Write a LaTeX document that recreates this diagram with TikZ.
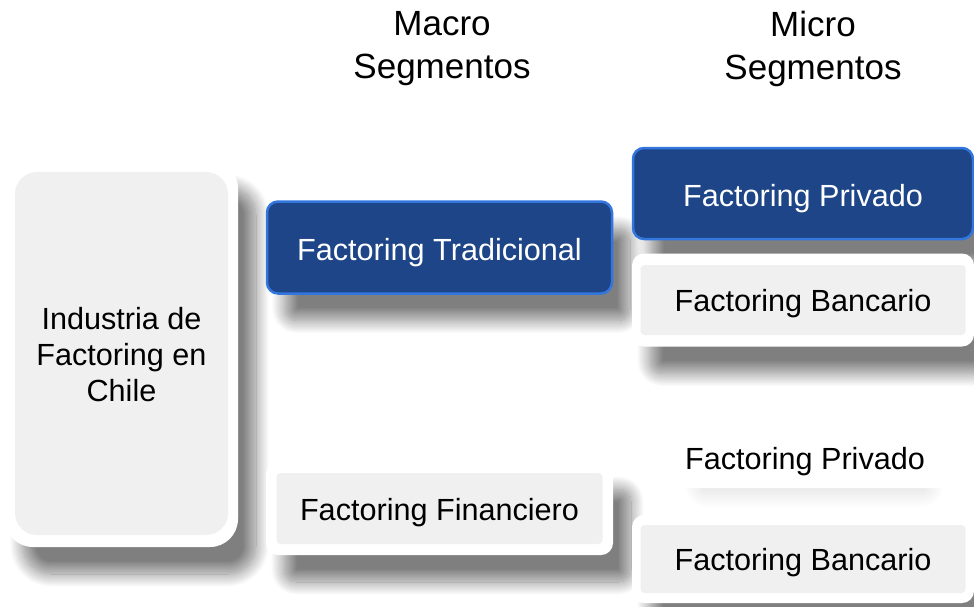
\documentclass[tikz,border=0pt]{standalone}
\usepackage{fontspec}
\setmainfont{Liberation Sans}
\usetikzlibrary{shadows.blur}
\definecolor{panelgray}{RGB}{240,240,240}
\definecolor{deepblue}{RGB}{30,69,135}
\definecolor{rimblue}{RGB}{50,118,222}
\begin{document}
\begin{tikzpicture}[x=1pt,y=-1pt,
  lbl/.style={font=\fontsize{30.6}{36}\selectfont,align=center,inner sep=0pt},
  head/.style={font=\fontsize{35}{43}\selectfont,align=center},
  softshadow/.style={blur shadow={shadow xshift=18pt,shadow yshift=-27pt,
      shadow blur radius=13pt,shadow blur steps=18,shadow opacity=50}},
  frame/.style={rectangle,rounded corners=12pt,fill=white,softshadow,
      inner sep=0pt},
  panel/.style={rectangle,rounded corners=4pt,fill=panelgray,inner sep=0pt},
  bluebox/.style={rectangle,rounded corners=11pt,fill=deepblue,draw=rimblue,
      line width=2.5pt,softshadow,inner sep=0pt}]
\useasboundingbox (0,0) rectangle (974,606);

% column headings
\node[head] (hmacro) at (442,49) {Macro\\Segmentos};
\node[head] (hmicro) at (813,49) {Micro\\Segmentos};

% industry panel
\node[frame,rounded corners=28pt,minimum width=233pt,minimum height=387pt] (ind) at (121.5,353.5) {};
\node[panel,rounded corners=22pt,minimum width=213pt,minimum height=363pt] (indin) at (ind) {};
\node[lbl] (indtxt) at ([yshift=-1pt]indin.center) {Industria de\\Factoring en\\Chile};

% macro segments
\node[bluebox,minimum width=345pt,minimum height=92pt] (trad) at (439.5,247.5) {};
\node[lbl,text=white] (tradtxt) at ([yshift=-5pt]trad.center) {Factoring Tradicional};
\node[frame,minimum width=347pt,minimum height=93pt] (fin) at (439.5,508.5) {};
\node[panel,minimum width=326pt,minimum height=71pt] (finin) at (fin) {};
\node[lbl] (fintxt) at ([yshift=-4pt]finin.center) {Factoring Financiero};

% micro segments, upper group
\node[bluebox,minimum width=340pt,minimum height=91pt] (privA) at (803,193.5) {};
\node[lbl,text=white] (privAtxt) at ([yshift=-5pt]privA.center) {Factoring Privado};
\node[frame,minimum width=342pt,minimum height=93pt] (banA) at (803,300) {};
\node[panel,minimum width=325pt,minimum height=70pt] (banAin) at (banA) {};
\node[lbl] (banAtxt) at ([yshift=-4pt]banAin.center) {Factoring Bancario};

% micro segments, lower group
\node[rectangle,rounded corners=12pt,fill=white,inner sep=0pt,
  blur shadow={shadow xshift=12pt,shadow yshift=-16pt,shadow scale=0.78,
    shadow blur radius=18pt,shadow blur steps=18,shadow opacity=12},
  minimum width=300pt,minimum height=56pt] (privB) at (805,460) {};
\node[lbl] (privBtxt) at ([yshift=-2pt]privB.center) {Factoring Privado};
\node[frame,minimum width=342pt,minimum height=88pt] (banB) at (803,559) {};
\node[panel,minimum width=325pt,minimum height=68pt] (banBin) at (banB) {};
\node[lbl] (banBtxt) at ([yshift=-4pt]banBin.center) {Factoring Bancario};
\end{tikzpicture}
\end{document}
